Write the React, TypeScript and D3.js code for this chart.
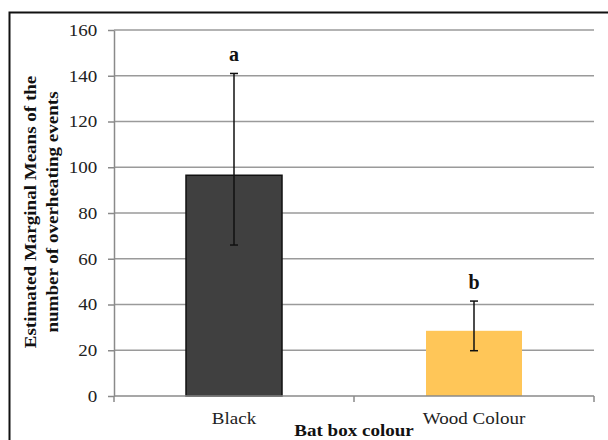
import React, { useEffect, useRef } from 'react';
import { select, scaleLinear, scaleBand, axisLeft, axisBottom } from 'd3';

const categories = ['Black', 'Wood Colour'];
const means = [96.5, 28.5];
const lower = [66, 19.8];
const upper = [141, 41.5];
const letters = ['a', 'b'];
const colors = ['#404040', '#FFC658'];
const yTicks = [0, 20, 40, 60, 80, 100, 120, 140, 160];

const W = 608;
const H = 440;
const margin = { top: 30, right: 14, bottom: 44, left: 114 };
const font = '"Liberation Serif", "Times New Roman", serif';
const stretch = 'scale(1.12,1)';

function App() {
  const svgRef = useRef<SVGSVGElement>(null);

  useEffect(() => {
    const svg = select(svgRef.current);
    svg.selectAll('*').remove();

    const x = scaleBand()
      .domain(categories)
      .range([margin.left, W - margin.right])
      .paddingInner(0.6)
      .paddingOuter(0.3);
    const y = scaleLinear().domain([0, 160]).range([H - margin.bottom, margin.top]);

    // frame
    svg.append('rect')
      .attr('x', 9.5).attr('y', 12.5)
      .attr('width', W + 10).attr('height', H + 10)
      .attr('fill', 'white').attr('stroke', '#111').attr('stroke-width', 2);

    // gridlines
    svg.append('g')
      .selectAll('line')
      .data(yTicks.slice(1))
      .enter()
      .append('line')
      .attr('x1', margin.left).attr('x2', W - margin.right)
      .attr('y1', d => y(d)).attr('y2', d => y(d))
      .attr('stroke', '#9a9a9a').attr('stroke-width', 1.5);

    // y axis
    const gy = svg.append('g')
      .attr('transform', `translate(${margin.left},0)`)
      .call(axisLeft(y).tickValues(yTicks).tickSize(6).tickPadding(9).tickSizeOuter(0))
      .attr('font-family', null)
      .attr('font-size', null);
    gy.select('.domain').attr('stroke', '#8a8a8a').attr('stroke-width', 1.5);
    gy.selectAll('.tick line').attr('stroke', '#8a8a8a').attr('stroke-width', 1.5);
    gy.selectAll('.tick text')
      .style('font-family', font).style('font-size', '17px').attr('fill', '#222')
      .attr('transform', stretch);

    // bars
    svg.append('g')
      .selectAll('rect')
      .data(categories)
      .enter()
      .append('rect')
      .attr('x', d => x(d) as number)
      .attr('width', x.bandwidth())
      .attr('y', (d, i) => y(means[i]))
      .attr('height', (d, i) => y(0) - y(means[i]))
      .attr('fill', (d, i) => colors[i])
      .attr('stroke', (d, i) => (i === 0 ? '#111' : 'none'))
      .attr('stroke-width', 1.5);

    // error bars
    const eb = svg.append('g')
      .selectAll('g')
      .data(categories)
      .enter()
      .append('g')
      .attr('stroke', '#111')
      .attr('stroke-width', 1.5);
    const cx = (d: string) => (x(d) as number) + x.bandwidth() / 2;
    eb.append('line')
      .attr('x1', cx).attr('x2', cx)
      .attr('y1', (d, i) => y(lower[i])).attr('y2', (d, i) => y(upper[i]));
    eb.append('line')
      .attr('x1', d => cx(d) - 4).attr('x2', d => cx(d) + 4)
      .attr('y1', (d, i) => y(lower[i])).attr('y2', (d, i) => y(lower[i]));
    eb.append('line')
      .attr('x1', d => cx(d) - 4).attr('x2', d => cx(d) + 4)
      .attr('y1', (d, i) => y(upper[i])).attr('y2', (d, i) => y(upper[i]));

    // significance letters
    svg.append('g')
      .selectAll('text')
      .data(categories)
      .enter()
      .append('text')
      .attr('x', cx)
      .attr('y', (d, i) => y(upper[i]) - 12)
      .attr('text-anchor', 'middle')
      .style('font-family', font).style('font-size', '20px').attr('font-weight', 'bold')
      .attr('fill', '#111')
      .text((d, i) => letters[i]);

    // x axis
    const gx = svg.append('g')
      .attr('transform', `translate(0,${y(0)})`)
      .call(axisBottom(x).tickSize(0).tickPadding(16))
      .attr('font-family', null)
      .attr('font-size', null);
    gx.select('.domain').remove();
    gx.selectAll('.tick text')
      .style('font-family', font).style('font-size', '17px').attr('fill', '#222')
      .attr('transform', stretch);
    gx.append('line')
      .attr('x1', margin.left).attr('x2', W - margin.right)
      .attr('stroke', '#8a8a8a').attr('stroke-width', 1.5);
    const bounds = [margin.left, (margin.left + W - margin.right) / 2, W - margin.right];
    gx.selectAll('.sep')
      .data(bounds)
      .enter()
      .append('line')
      .attr('x1', d => d).attr('x2', d => d)
      .attr('y1', 0).attr('y2', 6)
      .attr('stroke', '#8a8a8a').attr('stroke-width', 1.5);

    // axis titles
    svg.append('text')
      .attr('transform', `translate(${(margin.left + W - margin.right) / 2},436) ${stretch}`)
      .attr('text-anchor', 'middle')
      .style('font-family', font).style('font-size', '17px').attr('font-weight', 'bold')
      .attr('fill', '#111')
      .text('Bat box colour');

    const yt = svg.append('text')
      .attr('transform', `translate(0,212) rotate(-90) ${stretch}`)
      .attr('text-anchor', 'middle')
      .style('font-family', font).style('font-size', '17px').attr('font-weight', 'bold')
      .attr('fill', '#111');
    yt.append('tspan').attr('x', 0).attr('y', 36).text('Estimated Marginal Means of the');
    yt.append('tspan').attr('x', 0).attr('y', 58).text('number  of overheating events');
  });

  return (
    <svg
      ref={svgRef}
      width={W}
      height={H}
      style={{ position: 'absolute', left: 0, top: 0, background: 'white' }}
    />
  );
}

export default App;
